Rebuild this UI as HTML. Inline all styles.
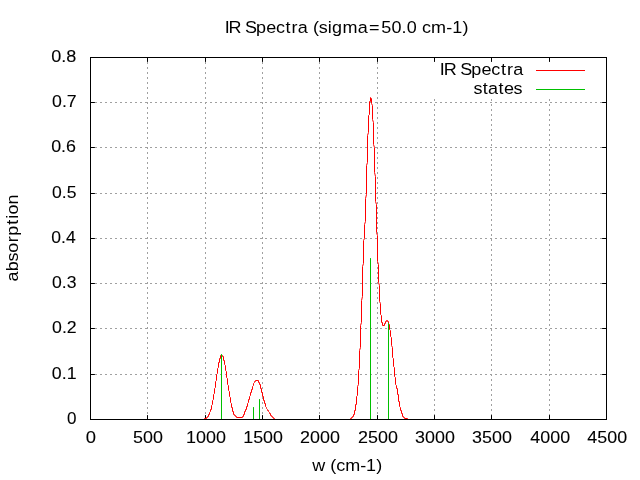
<!DOCTYPE html><html><head><meta charset="utf-8"><style>html,body{margin:0;padding:0;background:#fff;width:640px;height:480px;overflow:hidden;}svg{display:block;position:absolute;left:0;top:0;}#tx{filter:grayscale(1);}text{font-family:"Liberation Sans",sans-serif;fill:#000;}</style></head><body>
<svg width="640" height="480" viewBox="0 0 640 480">
<rect width="640" height="480" fill="#fff"/>
<line x1="90" y1="102.5" x2="606" y2="102.5" stroke="#a0a0a0" stroke-width="1" stroke-dasharray="2 3"/>
<line x1="90" y1="147.5" x2="606" y2="147.5" stroke="#a0a0a0" stroke-width="1" stroke-dasharray="2 3"/>
<line x1="90" y1="193.5" x2="606" y2="193.5" stroke="#a0a0a0" stroke-width="1" stroke-dasharray="2 3"/>
<line x1="90" y1="238.5" x2="606" y2="238.5" stroke="#a0a0a0" stroke-width="1" stroke-dasharray="2 3"/>
<line x1="90" y1="283.5" x2="606" y2="283.5" stroke="#a0a0a0" stroke-width="1" stroke-dasharray="2 3"/>
<line x1="90" y1="328.5" x2="606" y2="328.5" stroke="#a0a0a0" stroke-width="1" stroke-dasharray="2 3"/>
<line x1="90" y1="374.5" x2="606" y2="374.5" stroke="#a0a0a0" stroke-width="1" stroke-dasharray="2 3"/>
<line x1="147.5" y1="419" x2="147.5" y2="57" stroke="#a0a0a0" stroke-width="1" stroke-dasharray="2 3"/>
<line x1="205.5" y1="419" x2="205.5" y2="57" stroke="#a0a0a0" stroke-width="1" stroke-dasharray="2 3"/>
<line x1="262.5" y1="419" x2="262.5" y2="57" stroke="#a0a0a0" stroke-width="1" stroke-dasharray="2 3"/>
<line x1="319.5" y1="419" x2="319.5" y2="57" stroke="#a0a0a0" stroke-width="1" stroke-dasharray="2 3"/>
<line x1="377.5" y1="419" x2="377.5" y2="57" stroke="#a0a0a0" stroke-width="1" stroke-dasharray="2 3"/>
<line x1="434.5" y1="99" x2="434.5" y2="419" stroke="#a0a0a0" stroke-width="1" stroke-dasharray="2 3"/>
<line x1="491.5" y1="99" x2="491.5" y2="419" stroke="#a0a0a0" stroke-width="1" stroke-dasharray="2 3"/>
<line x1="549.5" y1="99" x2="549.5" y2="419" stroke="#a0a0a0" stroke-width="1" stroke-dasharray="2 3"/>
<path d="M90.5,102.5 H94.5 M606.5,102.5 H602.5 M90.5,147.5 H94.5 M606.5,147.5 H602.5 M90.5,193.5 H94.5 M606.5,193.5 H602.5 M90.5,238.5 H94.5 M606.5,238.5 H602.5 M90.5,283.5 H94.5 M606.5,283.5 H602.5 M90.5,328.5 H94.5 M606.5,328.5 H602.5 M90.5,374.5 H94.5 M606.5,374.5 H602.5 M147.5,419.5 V415.5 M147.5,57.5 V61.5 M205.5,419.5 V415.5 M205.5,57.5 V61.5 M262.5,419.5 V415.5 M262.5,57.5 V61.5 M319.5,419.5 V415.5 M319.5,57.5 V61.5 M377.5,419.5 V415.5 M377.5,57.5 V61.5 M434.5,419.5 V415.5 M434.5,57.5 V61.5 M491.5,419.5 V415.5 M491.5,57.5 V61.5 M549.5,419.5 V415.5 M549.5,57.5 V61.5" stroke="#000" stroke-width="1" fill="none" stroke-linecap="round"/>
<path d="M90.5,419.5 204.5,419.5 204.5,418.5 206.5,418.5 206.5,417.5 207.5,417.5 207.5,416.5 208.5,416.5 208.5,414.5 209.5,414.5 209.5,412.5 210.5,411.5 210.5,409.5 211.5,409.5 211.5,405.5 212.5,404.5 212.5,400.5 213.5,399.5 213.5,394.5 214.5,393.5 214.5,388.5 215.5,387.5 215.5,381.5 216.5,380.5 216.5,374.5 217.5,373.5 217.5,368.5 218.5,367.5 218.5,362.5 219.5,362.5 219.5,358.5 220.5,358.5 220.5,355.5 222.5,355.5 222.5,356.5 223.5,356.5 223.5,360.5 224.5,360.5 224.5,364.5 225.5,365.5 225.5,370.5 226.5,371.5 226.5,377.5 227.5,378.5 227.5,384.5 228.5,385.5 228.5,390.5 229.5,391.5 229.5,396.5 230.5,397.5 230.5,402.5 231.5,403.5 231.5,407.5 232.5,407.5 232.5,411.5 233.5,411.5 233.5,414.5 234.5,414.5 234.5,415.5 235.5,415.5 235.5,416.5 236.5,416.5 236.5,417.5 242.5,417.5 242.5,416.5 243.5,416.5 243.5,414.5 244.5,414.5 244.5,411.5 245.5,411.5 245.5,409.5 246.5,409.5 246.5,406.5 247.5,406.5 247.5,403.5 248.5,402.5 248.5,399.5 249.5,399.5 249.5,396.5 250.5,395.5 250.5,392.5 251.5,392.5 251.5,389.5 252.5,389.5 252.5,386.5 253.5,385.5 253.5,383.5 254.5,382.5 254.5,381.5 255.5,381.5 255.5,380.5 258.5,380.5 258.5,382.5 259.5,382.5 259.5,384.5 260.5,384.5 260.5,388.5 261.5,388.5 261.5,392.5 262.5,392.5 262.5,396.5 263.5,396.5 263.5,400.5 264.5,400.5 264.5,403.5 265.5,403.5 265.5,406.5 266.5,407.5 266.5,408.5 267.5,409.5 267.5,410.5 268.5,410.5 268.5,411.5 269.5,412.5 269.5,413.5 270.5,413.5 270.5,415.5 271.5,415.5 271.5,416.5 272.5,416.5 272.5,417.5 273.5,417.5 273.5,418.5 274.5,418.5 274.5,419.5 350.5,419.5 350.5,418.5 351.5,418.5 351.5,417.5 352.5,417.5 352.5,416.5 353.5,416.5 353.5,414.5 354.5,414.5 354.5,410.5 355.5,410.5 355.5,404.5 356.5,404.5 356.5,396.5 357.5,395.5 357.5,386.5 358.5,384.5 358.5,370.5 359.5,368.5 359.5,350.5 360.5,347.5 360.5,325.5 361.5,322.5 361.5,300.5 362.5,296.5 362.5,266.5 363.5,263.5 363.5,240.5 364.5,238.5 364.5,224.5 365.5,221.5 365.5,198.5 366.5,194.5 366.5,165.5 367.5,162.5 367.5,135.5 368.5,132.5 368.5,115.5 369.5,114.5 369.5,101.5 370.5,101.5 370.5,97.5 370.5,98.5 371.5,98.5 371.5,103.5 372.5,105.5 372.5,119.5 373.5,122.5 373.5,144.5 374.5,147.5 374.5,172.5 375.5,176.5 375.5,201.5 376.5,204.5 376.5,232.5 377.5,235.5 377.5,261.5 378.5,264.5 378.5,282.5 379.5,285.5 379.5,301.5 380.5,303.5 380.5,314.5 381.5,315.5 381.5,322.5 382.5,322.5 382.5,325.5 384.5,325.5 384.5,323.5 385.5,323.5 385.5,321.5 386.5,321.5 386.5,320.5 387.5,320.5 387.5,321.5 388.5,321.5 388.5,323.5 389.5,324.5 389.5,329.5 390.5,330.5 390.5,336.5 391.5,337.5 391.5,345.5 392.5,347.5 392.5,357.5 393.5,358.5 393.5,366.5 394.5,367.5 394.5,376.5 395.5,377.5 395.5,384.5 396.5,385.5 396.5,388.5 397.5,388.5 397.5,394.5 398.5,394.5 398.5,401.5 399.5,401.5 399.5,406.5 400.5,407.5 400.5,410.5 401.5,410.5 401.5,413.5 402.5,413.5 402.5,416.5 403.5,416.5 403.5,417.5 404.5,417.5 404.5,418.5 407.5,418.5 407.5,419.5 606.5,419.5" fill="none" stroke="#ff0000" stroke-width="1" stroke-linejoin="round" stroke-linecap="round"/>
<path d="M221.5,419.5 V354.5 M253.5,419.5 V407.5 M259.5,419.5 V399.5 M370.5,419.5 V258.5 M388.5,419.5 V323.5" stroke="#00c000" stroke-width="1" fill="none" stroke-linecap="round"/>
<line x1="536" y1="70.5" x2="585" y2="70.5" stroke="#ff0000" stroke-width="1"/>
<line x1="536" y1="89.5" x2="585" y2="89.5" stroke="#00c000" stroke-width="1"/>
<rect x="90.5" y="57.5" width="516" height="362" fill="none" stroke="#000" stroke-width="1"/>
</svg>
<svg id="tx" width="640" height="480" viewBox="0 0 640 480">
<text x="66.94" y="424.00" font-size="17.00" textLength="9.49" lengthAdjust="spacingAndGlyphs" stroke="#000" stroke-width="0.1">0</text>
<text x="51.87" y="379.00" font-size="17.00" textLength="24.67" lengthAdjust="spacingAndGlyphs" stroke="#000" stroke-width="0.1">0.1</text>
<text x="52.09" y="333.00" font-size="17.00" textLength="24.62" lengthAdjust="spacingAndGlyphs" stroke="#000" stroke-width="0.1">0.2</text>
<text x="52.09" y="288.00" font-size="17.00" textLength="24.46" lengthAdjust="spacingAndGlyphs" stroke="#000" stroke-width="0.1">0.3</text>
<text x="51.24" y="243.00" font-size="17.00" textLength="24.43" lengthAdjust="spacingAndGlyphs" stroke="#000" stroke-width="0.1">0.4</text>
<text x="52.11" y="198.00" font-size="17.00" textLength="24.40" lengthAdjust="spacingAndGlyphs" stroke="#000" stroke-width="0.1">0.5</text>
<text x="51.18" y="152.00" font-size="17.00" textLength="24.87" lengthAdjust="spacingAndGlyphs" stroke="#000" stroke-width="0.1">0.6</text>
<text x="52.09" y="107.00" font-size="17.00" textLength="24.62" lengthAdjust="spacingAndGlyphs" stroke="#000" stroke-width="0.1">0.7</text>
<text x="51.18" y="62.00" font-size="17.00" textLength="25.10" lengthAdjust="spacingAndGlyphs" stroke="#000" stroke-width="0.1">0.8</text>
<text x="85.80" y="443.00" font-size="17.00" textLength="10.26" lengthAdjust="spacingAndGlyphs" stroke="#000" stroke-width="0.1">0</text>
<text x="133.00" y="443.00" font-size="17.00" textLength="29.88" lengthAdjust="spacingAndGlyphs" stroke="#000" stroke-width="0.1">500</text>
<text x="186.12" y="443.00" font-size="17.00" textLength="39.93" lengthAdjust="spacingAndGlyphs" stroke="#000" stroke-width="0.1">1000</text>
<text x="243.24" y="443.00" font-size="17.00" textLength="39.66" lengthAdjust="spacingAndGlyphs" stroke="#000" stroke-width="0.1">1500</text>
<text x="300.08" y="443.00" font-size="17.00" textLength="39.83" lengthAdjust="spacingAndGlyphs" stroke="#000" stroke-width="0.1">2000</text>
<text x="358.08" y="443.00" font-size="17.00" textLength="39.83" lengthAdjust="spacingAndGlyphs" stroke="#000" stroke-width="0.1">2500</text>
<text x="415.12" y="443.00" font-size="17.00" textLength="39.81" lengthAdjust="spacingAndGlyphs" stroke="#000" stroke-width="0.1">3000</text>
<text x="472.12" y="443.00" font-size="17.00" textLength="39.81" lengthAdjust="spacingAndGlyphs" stroke="#000" stroke-width="0.1">3500</text>
<text x="530.39" y="443.00" font-size="17.00" textLength="39.75" lengthAdjust="spacingAndGlyphs" stroke="#000" stroke-width="0.1">4000</text>
<text x="587.39" y="443.00" font-size="17.00" textLength="39.75" lengthAdjust="spacingAndGlyphs" stroke="#000" stroke-width="0.1">4500</text>
<text x="211.93 215.66 227.11 231.03 241.58 251.07 260.38 269.41 275.03 280.89 290.31 295.21 300.71 309.12 313.20 323.05 337.43 348.19 359.61 369.25 378.86 383.72 393.33 398.01 406.72 421.11 426.76 436.45" y="33.00" font-size="17.00" transform="scale(1.0600,1)">IR Spectra (sigma=50.0 cm-1)</text>
<text x="414.93 418.69 430.15 434.10 444.68 454.20 463.53 472.59 478.23 484.11" y="75.00" font-size="17.00" transform="scale(1.0600,1)">IR Spectra</text>
<text x="446.65 455.33 460.45 470.30 475.44 484.38" y="94.00" font-size="17.00" transform="scale(1.0600,1)">states</text>
<text x="294.62 306.83 311.63 317.18 325.68 339.85 345.35 354.89" y="471.00" font-size="17.00" transform="scale(1.0600,1)">w (cm-1)</text>
<text x="-265.63 -256.02 -246.63 -238.36 -228.58 -222.41 -212.13 -206.49 -202.47 -192.86" y="18.00" font-size="17.00" transform="rotate(-90) scale(1.0600,1)">absorption</text>
</svg></body></html>
